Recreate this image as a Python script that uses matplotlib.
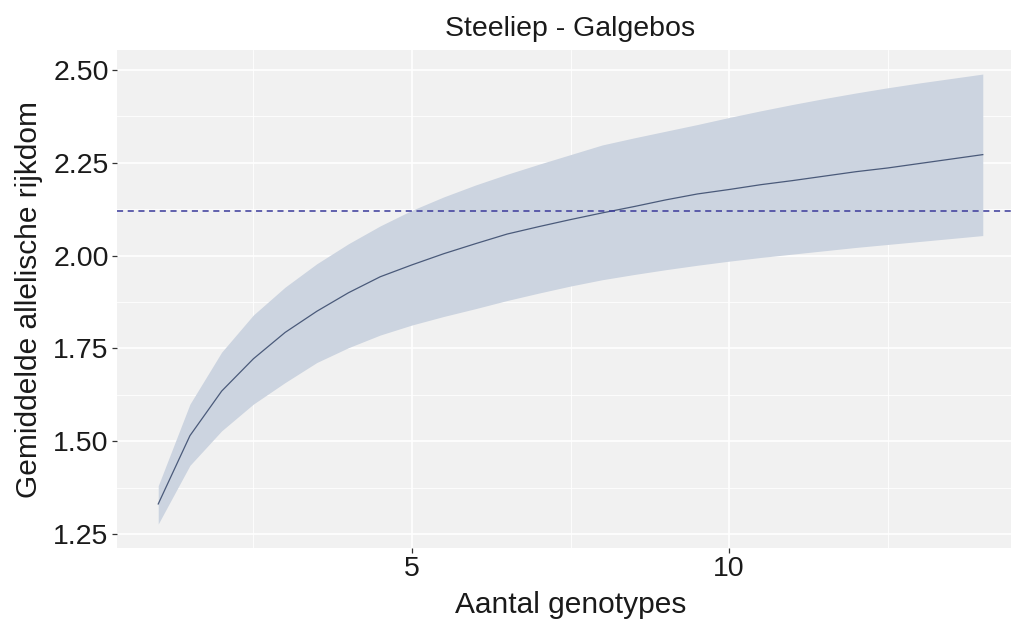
import matplotlib
matplotlib.use("Agg")
import matplotlib.pyplot as plt
from matplotlib.ticker import FixedLocator

plt.rcParams['font.family'] = ['Liberation Sans', 'DejaVu Sans']

# Rarefaction of mean allelic richness against number of genotypes
genotypes = [1, 1.5, 2, 2.5, 3, 3.5, 4, 4.5, 5, 5.5, 6, 6.5, 7, 7.5, 8,
             8.5, 9, 9.5, 10, 10.5, 11, 11.5, 12, 12.5, 13, 13.5, 14]
mean_richness = [1.331, 1.515, 1.635, 1.722, 1.793, 1.850, 1.900, 1.943, 1.975,
                 2.005, 2.032, 2.058, 2.078, 2.097, 2.115, 2.132, 2.150, 2.166,
                 2.178, 2.191, 2.202, 2.214, 2.226, 2.236, 2.248, 2.260, 2.272]
upper_richness = [1.380, 1.600, 1.740, 1.840, 1.915, 1.978, 2.032, 2.080, 2.122,
                  2.158, 2.190, 2.219, 2.246, 2.272, 2.298, 2.317, 2.335, 2.353,
                  2.372, 2.390, 2.407, 2.423, 2.438, 2.452, 2.465, 2.477, 2.489]
lower_richness = [1.277, 1.435, 1.528, 1.600, 1.658, 1.712, 1.752, 1.786, 1.813,
                  1.836, 1.857, 1.879, 1.899, 1.918, 1.935, 1.949, 1.962, 1.974,
                  1.985, 1.995, 2.004, 2.013, 2.022, 2.030, 2.038, 2.046, 2.054]
reference_richness = 2.119

x_ticks = [5, 10]
x_minor = [2.5, 7.5, 12.5]
y_ticks = [1.25, 1.50, 1.75, 2.00, 2.25, 2.50]
y_minor = [1.375, 1.625, 1.875, 2.125, 2.375]

fig = plt.figure(figsize=(10.11, 6.35), dpi=100)
ax = fig.add_axes([117 / 1011, 1 - 548 / 635, 907 / 1011, 498 / 635])
ax.set_facecolor('#f1f1f1')

ax.fill_between(genotypes, lower_richness, upper_richness,
                color='#ccd4e0', linewidth=0, zorder=2)
ax.plot(genotypes, mean_richness, color='#4a5a7a', linewidth=0.9, zorder=3)
ax.axhline(reference_richness, color='#3a3a9a', linewidth=1.1,
           linestyle=(0, (4, 3)), zorder=4)

ax.set_xlim(0.35, 14.65)
ax.set_ylim(1.2124, 2.5538)

ax.xaxis.set_major_locator(FixedLocator(x_ticks))
ax.xaxis.set_minor_locator(FixedLocator(x_minor))
ax.yaxis.set_major_locator(FixedLocator(y_ticks))
ax.yaxis.set_minor_locator(FixedLocator(y_minor))
ax.set_yticklabels([f"{v:.2f}" for v in y_ticks])

ax.grid(which='major', color='white', linewidth=1.2, zorder=1)
ax.grid(which='minor', color='white', linewidth=0.6, zorder=1)
ax.set_axisbelow(True)

for s in ax.spines.values():
    s.set_visible(False)

ax.tick_params(axis='both', which='major', length=3.5, width=0.9,
               color='#333333', labelsize=20.5, labelcolor='#1a1a1a', pad=2.5)
ax.tick_params(axis='both', which='minor', length=0)

ax.set_xlabel('Aantal genotypes', fontsize=21.5, color='#1a1a1a', labelpad=6)
ax.set_ylabel('Gemiddelde allelische rijkdom', fontsize=21.5, color='#1a1a1a',
              labelpad=7)
ax.set_title('Steeliep - Galgebos', fontsize=20.5, color='#1a1a1a', pad=10)

fig.savefig('out.png', dpi=100, facecolor='white')
